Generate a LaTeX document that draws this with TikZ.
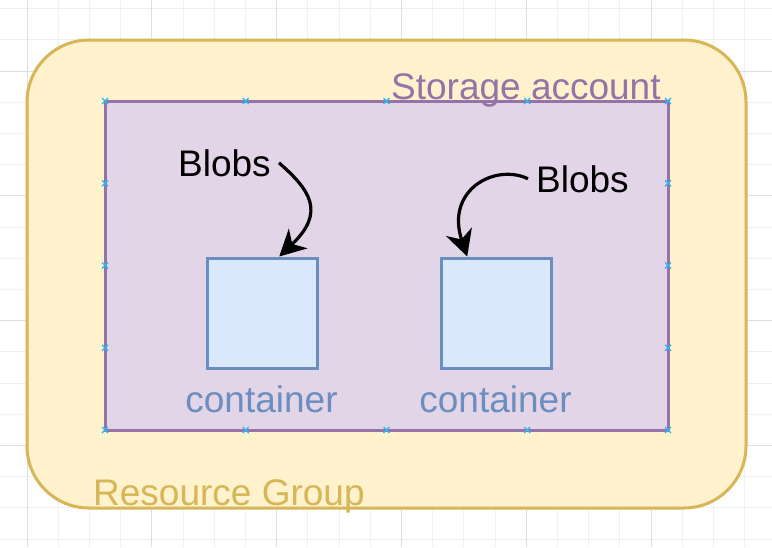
\documentclass[tikz,border=0pt]{standalone}
\usepackage{fontspec}
\setmainfont{Liberation Sans}
\usetikzlibrary{arrows.meta,calc}
\definecolor{rgfill}{HTML}{FFF2CC}
\definecolor{rgline}{HTML}{D6B656}
\definecolor{safill}{HTML}{E1D5E7}
\definecolor{saline}{HTML}{9673A6}
\definecolor{cfill}{HTML}{DAE8FC}
\definecolor{cline}{HTML}{6C8EBF}
\definecolor{gridminor}{HTML}{F0F0F0}
\definecolor{gridmajor}{HTML}{DEDEDE}
\definecolor{handle}{HTML}{29B6F2}
\begin{document}
\begin{tikzpicture}[x=1pt,y=-1pt,
  lbl/.style={inner sep=0pt, font=\fontsize{37}{44}\selectfont},
  cbox/.style={draw=cline, fill=cfill, line width=3pt, minimum size=110pt, inner sep=0pt},
  arr/.style={line width=3.2pt, -{Stealth[length=26pt,width=27pt,inset=8pt]}},
  hmark/.style={handle, line width=1.2pt}]
\useasboundingbox (0,0) rectangle (772,547);
\fill[white] (0,0) rectangle (772,547);
% grid
\foreach \xx in {-4.2,27,...,775} \draw[gridminor, line width=1pt] (\xx,0) -- (\xx,547);
\foreach \yy in {8.6,39.8,...,550} \draw[gridminor, line width=1pt] (0,\yy) -- (772,\yy);
\foreach \xx in {27,151.8,...,775} \draw[gridmajor, line width=1pt] (\xx,0) -- (\xx,547);
\foreach \yy in {71,195.8,...,550} \draw[gridmajor, line width=1pt] (0,\yy) -- (772,\yy);
% resource group
\node[draw=rgline, fill=rgfill, line width=3pt, rounded corners=62pt,
      minimum width=719pt, minimum height=468pt, inner sep=0pt] (rg) at (386.5,274) {};
% storage account
\node[draw=saline, fill=safill, line width=3pt,
      minimum width=563pt, minimum height=329pt, inner sep=0pt] (sa) at (386.5,265.5) {};
% handles
\foreach \hx in {105,245.75,386.5,527.25,668}
  \foreach \hy in {101,430}
    \draw[hmark] ({\hx-3},{\hy-3}) -- ({\hx+3},{\hy+3}) ({\hx-3},{\hy+3}) -- ({\hx+3},{\hy-3});
\foreach \hy in {183.25,265.5,347.75}
  \foreach \hx in {105,668}
    \draw[hmark] ({\hx-3},{\hy-3}) -- ({\hx+3},{\hy+3}) ({\hx-3},{\hy+3}) -- ({\hx+3},{\hy-3});
% labels
\node[lbl, text=saline, anchor=base west] (salbl) at (391,99) {Storage account};
\node[lbl, text=rgline, anchor=base west] (rglbl) at (93,505) {Resource Group};
% containers
\node[cbox] (cL) at (262,313) {};
\node[cbox] (cR) at (496,313) {};
\node[lbl, text=cline, anchor=base] (tL) at (261.5,412) {container};
\node[lbl, text=cline, anchor=base] (tR) at (495.5,412) {container};
% blobs
\node[lbl, anchor=base west] (bL) at (178,176) {Blobs};
\node[lbl, anchor=base west] (bR) at (536,192) {Blobs};
\draw[arr] ([xshift=8pt]bL.east) .. controls (310,190) and (326,212) .. (cL.73);
\draw[arr] ([xshift=-8pt]bR.west) .. controls (495,163) and (445,190) .. (cR.117);
\end{tikzpicture}
\end{document}
